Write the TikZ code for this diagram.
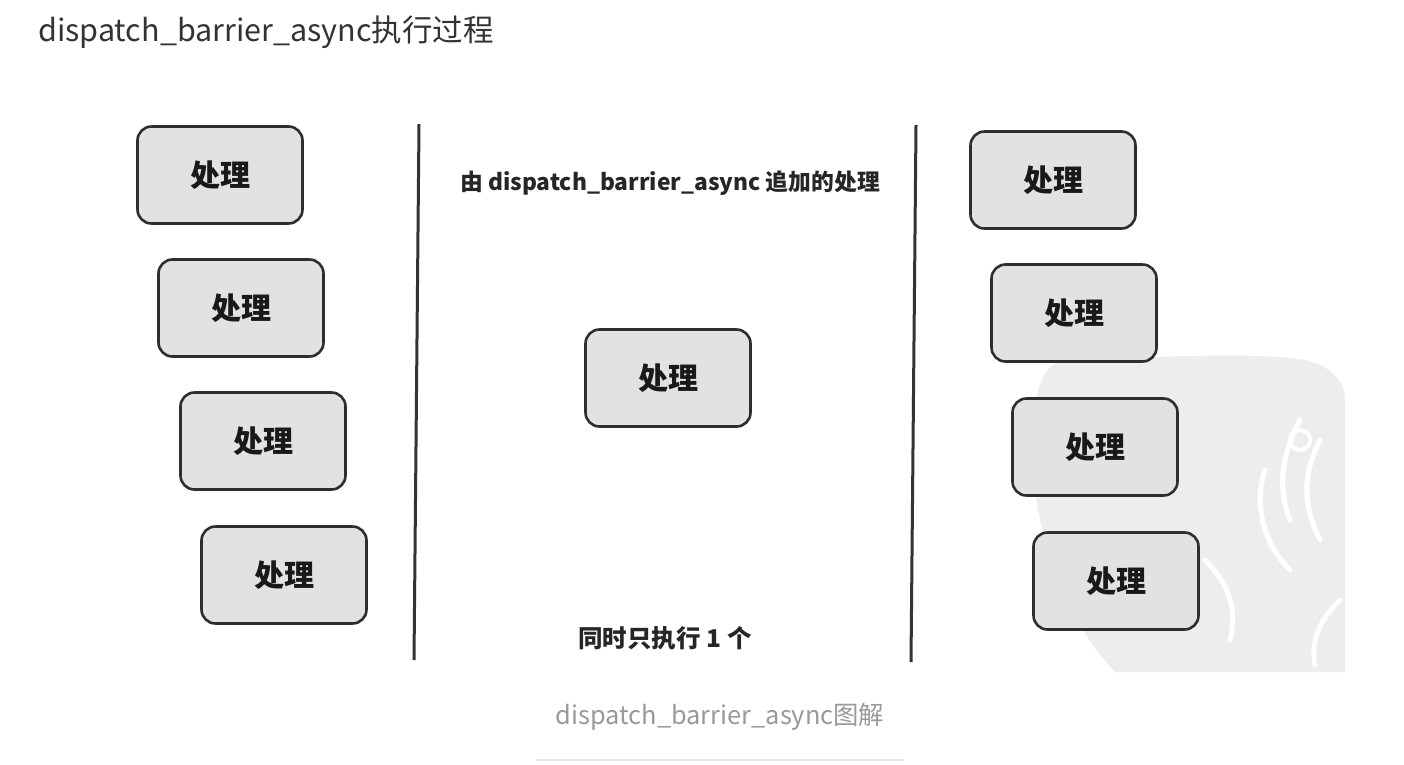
\documentclass[tikz,border=0pt]{standalone}
\usepackage{fontspec}
\setmainfont{Noto Sans CJK SC}
\definecolor{boxfill}{HTML}{E2E2E2}
\definecolor{boxline}{HTML}{2E2E2E}
\definecolor{titlecol}{HTML}{333333}
\definecolor{capcol}{HTML}{999999}
\definecolor{blobcol}{HTML}{EDEDED}
\begin{document}
\begin{tikzpicture}[x=1pt,y=-1pt,
  proc/.style={draw=boxline, line width=2.6pt, fill=boxfill, rounded corners=14pt,
    minimum width=165pt, minimum height=97pt, inner sep=0pt,
    font=\fontsize{30}{33}\selectfont\bfseries, text=black!90},
  sep/.style={draw=black!80, line width=3pt},
  lbl/.style={inner sep=0pt, font=\bfseries, text=black!85}]
\useasboundingbox (0,0) rectangle (1404,764);
% watermark blob
\fill[blobcol] (1062,362) .. controls (1150,356) and (1260,352) .. (1305,360)
  .. controls (1330,366) and (1345,380) .. (1345,400) -- (1345,672) -- (1115,672)
  .. controls (1085,640) and (1055,590) .. (1040,520)
  .. controls (1030,470) and (1030,410) .. (1040,385)
  .. controls (1045,370) and (1052,363) .. (1062,362) -- cycle;
\draw[white, line width=5pt, line cap=round] (1300,420) .. controls (1285,450) and (1275,480) .. (1290,520);
\draw[white, line width=5pt, line cap=round] (1320,440) .. controls (1305,470) and (1300,500) .. (1320,540);
\draw[white, line width=5pt, line cap=round] (1265,470) .. controls (1255,500) and (1260,540) .. (1290,570);
\draw[white, line width=4pt] (1300,440) circle (10pt);
\draw[white, line width=5pt, line cap=round] (1205,560) .. controls (1220,575) and (1240,600) .. (1230,640);
\draw[white, line width=5pt, line cap=round] (1340,600) .. controls (1320,620) and (1310,640) .. (1315,665);
% title
\node[anchor=west, inner sep=0pt, text=titlecol, font=\fontsize{30.5}{33}\selectfont] (title) at (38,32) {dispatch\_barrier\_async执行过程};
% separators
\coordinate (l1) at (419,124); \coordinate (l2) at (414,660);
\coordinate (r1) at (916,125); \coordinate (r2) at (911,662);
\draw[sep] (l1) -- (l2);
\draw[sep] (r1) -- (r2);
% left column
\node[proc] (a1) at (220,175) {处理};
\node[proc] (a2) at (241,308) {处理};
\node[proc] (a3) at (263,441) {处理};
\node[proc] (a4) at (284,575) {处理};
% middle
\node[lbl, font=\fontsize{22.8}{26}\selectfont\bfseries] (top) at (670,183) {由 dispatch\_barrier\_async 追加的处理};
\node[proc] (m) at (668,378) {处理};
\node[lbl, font=\fontsize{24.5}{27}\selectfont\bfseries] (bot) at (665,638) {同时只执行 1 个};
% right column
\node[proc] (b1) at (1053,180) {处理};
\node[proc] (b2) at (1074,313) {处理};
\node[proc] (b3) at (1095,447) {处理};
\node[proc] (b4) at (1116,581) {处理};
% caption
\node[inner sep=0pt, text=capcol, font=\fontsize{25.4}{28}\selectfont] (cap) at (720,717) {dispatch\_barrier\_async图解};
\coordinate (u1) at (536,760); \coordinate (u2) at (904,760);
\draw[black!10, line width=1.5pt] (u1) -- (u2);
\end{tikzpicture}
\end{document}
